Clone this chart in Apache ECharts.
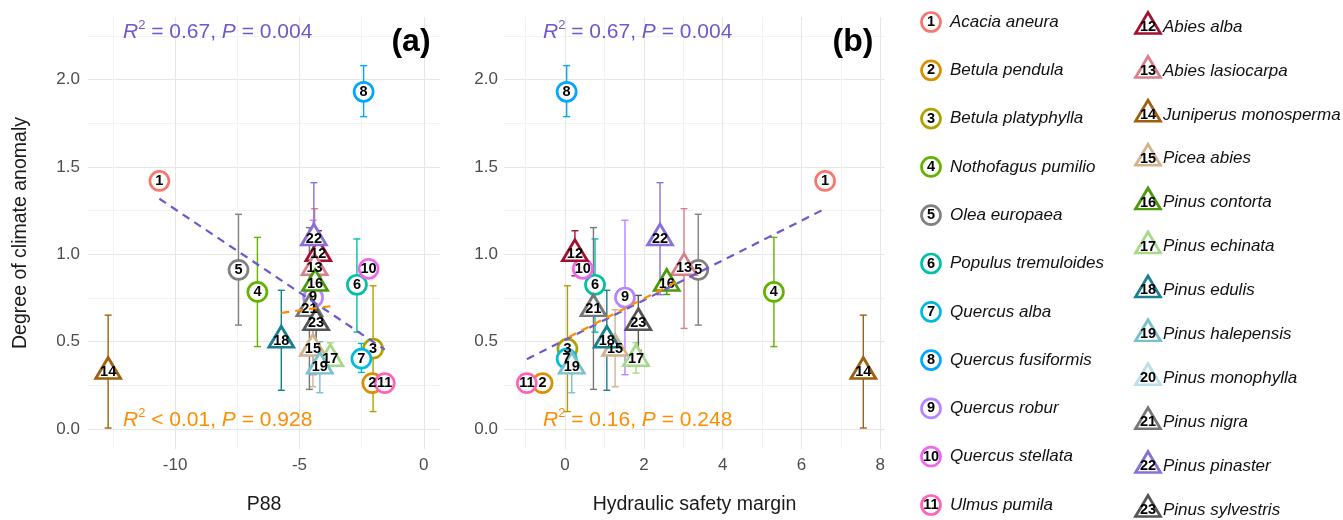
<!DOCTYPE html>
<html>
<head>
<meta charset="utf-8">
<script src="https://cdn.jsdelivr.net/npm/echarts@6/dist/echarts.min.js"></script>
<style>
  html, body { margin: 0; padding: 0; background: #fff; }
  #chart { width: 1343px; height: 520px; }
</style>
</head>
<body>
<div id="chart"></div>
<script>
const species = ['Acacia aneura', 'Betula pendula', 'Betula platyphylla', 'Nothofagus pumilio', 'Olea europaea',
  'Populus tremuloides', 'Quercus alba', 'Quercus fusiformis', 'Quercus robur', 'Quercus stellata', 'Ulmus pumila',
  'Abies alba', 'Abies lasiocarpa', 'Juniperus monosperma', 'Picea abies', 'Pinus contorta', 'Pinus echinata',
  'Pinus edulis', 'Pinus halepensis', 'Pinus monophylla', 'Pinus nigra', 'Pinus pinaster', 'Pinus sylvestris']
const group = ['angio', 'angio', 'angio', 'angio', 'angio', 'angio', 'angio', 'angio', 'angio', 'angio', 'angio',
  'conifer', 'conifer', 'conifer', 'conifer', 'conifer', 'conifer', 'conifer', 'conifer', 'conifer', 'conifer', 'conifer', 'conifer']

// x values per panel, y shared
const p88 = [-10.63, -2.07, -2.04, -6.69, -7.45, -2.69, -2.51, -2.42, -4.45, -2.22, -1.57,
  -4.24, -4.39, -12.69, -4.46, -4.37, -3.76, -5.73, -4.18, null, -4.6, -4.42, -4.33]
const hsm = [6.6, -0.57, 0.06, 5.3, 3.38, 0.76, 0.04, 0.04, 1.52, 0.45, -0.97,
  0.25, 3.02, 7.57, 1.27, 2.58, 1.8, 1.06, 0.17, null, 0.72, 2.41, 1.86]
const anomaly = [1.42, 0.263, 0.46, 0.785, 0.911, 0.826, 0.403, 1.93, 0.753, 0.917, 0.263,
  1.0, 0.92, 0.326, 0.458, 0.83, 0.4, 0.505, 0.356, null, 0.685, 1.09, 0.606]
const anomalyLow = [null, null, 0.10, 0.472, 0.595, 0.555, 0.324, 1.788, 0.311, 0.873, null,
  0.877, 0.576, 0.006, 0.242, 0.77, 0.32, 0.222, 0.208, null, 0.227, 0.769, 0.45]
const anomalyHigh = [null, null, 0.82, 1.097, 1.229, 1.088, 0.49, 2.08, 1.195, 0.96, null,
  1.135, 1.261, 0.652, 0.683, 0.89, 0.494, 0.794, 0.50, null, 1.153, 1.41, 0.765]

// fitted lines (end points)
const fitAngioA = [[-10.63, 1.318], [-1.57, 0.455]]
const fitConiferA = [[-5.73, 0.665], [-3.76, 0.703]]
const fitAngioB = [[-0.97, 0.40], [6.6, 1.261]]
const fitConiferB = [[0.1, 0.527], [2.85, 0.845]]

// ticks / grid lines
const xGridA = [-12.5, -10, -7.5, -5, -2.5, 0]
const xLabelsA = [-10, -5, 0]
const xGridB = [-1, 0, 1, 2, 3, 4, 5, 6, 7, 8]
const xLabelsB = [0, 2, 4, 6, 8]
const yGrid = [0, 0.25, 0.5, 0.75, 1, 1.25, 1.5, 1.75, 2, 2.25]
const yLabels = [0, 0.5, 1, 1.5, 2]

const colors = ['#F8766D', '#DB8E00', '#AEA200', '#64B200', '#808080', '#00C1A7', '#00BADE', '#00A6FF',
  '#B385FF', '#EF67EB', '#FF63B6', '#A50F30', '#D9808C', '#A0600F', '#D2B48C', '#4A9A0A', '#A6D98A',
  '#1A7F8E', '#78C0CC', '#B8E0E8', '#777777', '#8A6FD6', '#555555']

const FONT = '"Liberation Sans", Arial, sans-serif'
const PURPLE = '#6A5ACD'
const ORANGE = '#FF8C00'
const MAJOR = '#E6E6E6'
const MINOR = '#F2F2F2'

const chart = echarts.init(document.getElementById('chart'))

const markerItem = (i, value) => {
  const tri = group[i] === 'conifer'
  return {
    name: species[i],
    value,
    symbol: tri ? 'triangle' : 'circle',
    symbolSize: tri ? [25, 21] : 19,
    symbolOffset: tri ? [0, -4] : [0, 0],
    itemStyle: { color: '#fff', borderColor: colors[i], borderWidth: 2.7, opacity: 1 },
    label: { formatter: String(i + 1), offset: tri ? [0, 4] : [0, 0] }
  }
}

const markerLabel = {
  show: true, position: 'inside', color: '#000', fontWeight: 'bold', fontSize: 14.5, fontFamily: FONT
}

const pointSeries = (xs, idx) => ({
  type: 'scatter',
  xAxisIndex: idx, yAxisIndex: idx,
  z: 3,
  itemStyle: { opacity: 1 },
  label: markerLabel,
  data: species.map((n, i) => xs[i] == null ? null : markerItem(i, [xs[i], anomaly[i]])).filter(Boolean)
})

const errorSeries = (xs, idx) => ({
  type: 'custom',
  xAxisIndex: idx, yAxisIndex: idx,
  z: 2,
  encode: { x: 0, y: [1, 2] },
  data: species.map((n, i) => [xs[i], anomalyLow[i], anomalyHigh[i], i])
    .filter(d => d[0] != null && d[1] != null),
  renderItem (params, api) {
    const x = api.value(0)
    const lo = api.coord([x, api.value(1)])
    const hi = api.coord([x, api.value(2)])
    const style = { stroke: colors[api.value(3)], lineWidth: 1.4 }
    const cap = 3.5
    return {
      type: 'group',
      children: [
        { type: 'line', shape: { x1: lo[0], y1: lo[1], x2: hi[0], y2: hi[1] }, style },
        { type: 'line', shape: { x1: lo[0] - cap, y1: lo[1], x2: lo[0] + cap, y2: lo[1] }, style },
        { type: 'line', shape: { x1: hi[0] - cap, y1: hi[1], x2: hi[0] + cap, y2: hi[1] }, style }
      ]
    }
  }
})

const fitSeries = (pts, color, idx) => ({
  type: 'line',
  xAxisIndex: idx, yAxisIndex: idx,
  z: 4,
  showSymbol: false,
  data: pts,
  lineStyle: { color, width: 2.2, type: [8, 6] }
})

const xAxisBase = (idx, min, max, gridVals, labelVals, name) => ({
  gridIndex: idx, type: 'value', min, max,
  name, nameLocation: 'middle', nameGap: 46,
  nameTextStyle: { fontSize: 19.5, color: '#1a1a1a', fontFamily: FONT },
  axisLine: { show: false },
  axisTick: { show: false, customValues: gridVals },
  axisLabel: { customValues: labelVals, fontSize: 17, color: '#4D4D4D', margin: 8, fontFamily: FONT },
  splitLine: { show: true, lineStyle: { color: [MINOR, MAJOR], width: 1 } }
})

const yAxisBase = (idx, name, margin) => ({
  gridIndex: idx, type: 'value', min: -0.114, max: 2.358,
  name, nameLocation: 'middle', nameGap: 57,
  nameTextStyle: { fontSize: 19.5, color: '#1a1a1a', fontFamily: FONT },
  axisLine: { show: false },
  axisTick: { show: false, customValues: yGrid },
  axisLabel: {
    customValues: yLabels, fontSize: 17, color: '#4D4D4D', margin, fontFamily: FONT,
    formatter: v => v.toFixed(1)
  },
  splitLine: { show: true, lineStyle: { color: [MAJOR, MINOR], width: 1 } }
})

// legend built on two hidden grids
const legendIdx1 = species.map((n, i) => i).filter(i => i < 11)
const legendIdx2 = species.map((n, i) => i).filter(i => i >= 11)

const legendMarkers = (ids, idx) => ({
  type: 'scatter', xAxisIndex: idx, yAxisIndex: idx, z: 3,
  itemStyle: { opacity: 1 },
  label: markerLabel,
  data: ids.map((i, row) => markerItem(i, [0, row]))
})

const legendNames = (ids, idx, dist) => ({
  type: 'scatter', xAxisIndex: idx, yAxisIndex: idx, z: 3,
  symbolSize: 1,
  itemStyle: { color: 'rgba(0,0,0,0)', opacity: 1 },
  label: {
    show: true, position: 'right', distance: dist, formatter: '{b}',
    fontStyle: 'italic', fontSize: 17, color: '#111', fontFamily: FONT
  },
  data: ids.map((i, row) => ({ name: species[i], value: [0, row] }))
})

const hiddenX = idx => ({ gridIndex: idx, type: 'value', min: -1, max: 1, show: false })
const hiddenY = (idx, max) => ({ gridIndex: idx, type: 'value', min: 0, max, inverse: true, show: false })

const annotation = (sign, rest, color, x, y) => {
  const base = { fill: color, fontSize: 21, fontFamily: FONT, lineHeight: 26 }
  return {
    type: 'text', x, y, z: 10,
    style: {
      text: `{i|R}{s|2}{n|${sign}}{i|P}{n| = ${rest}}`,
      verticalAlign: 'middle',
      rich: {
        i: Object.assign({}, base, { fontStyle: 'italic' }),
        n: base,
        s: { fill: color, fontSize: 13, fontFamily: FONT, verticalAlign: 'top', lineHeight: 26 }
      }
    }
  }
}

const panelTag = (text, x, y) => ({
  type: 'text', x, y, z: 10,
  style: { text, fill: '#000', fontSize: 32, fontWeight: 'bold', fontFamily: FONT, align: 'center', verticalAlign: 'middle' }
})

chart.setOption({
  animation: false,
  backgroundColor: '#fff',
  grid: [
    { left: 88, top: 17, width: 352, height: 435 },
    { left: 504, top: 17, width: 381, height: 435 },
    { left: 926, top: 22, width: 10, height: 483 },
    { left: 1143, top: 27, width: 10, height: 483 }
  ],
  xAxis: [
    xAxisBase(0, -13.5, 0.65, xGridA, xLabelsA, 'P88'),
    xAxisBase(1, -1.55, 8.12, xGridB, xLabelsB, 'Hydraulic safety margin'),
    hiddenX(2),
    hiddenX(3)
  ],
  yAxis: [
    yAxisBase(0, 'Degree of climate anomaly', 8),
    yAxisBase(1, '', 6),
    hiddenY(2, legendIdx1.length - 1),
    hiddenY(3, legendIdx2.length - 1)
  ],
  series: [
    errorSeries(p88, 0),
    pointSeries(p88, 0),
    fitSeries(fitAngioA, PURPLE, 0),
    fitSeries(fitConiferA, ORANGE, 0),
    errorSeries(hsm, 1),
    pointSeries(hsm, 1),
    fitSeries(fitAngioB, PURPLE, 1),
    fitSeries(fitConiferB, ORANGE, 1),
    legendMarkers(legendIdx1, 2),
    legendNames(legendIdx1, 2, 18.5),
    legendMarkers(legendIdx2, 3),
    legendNames(legendIdx2, 3, 14.5)
  ],
  graphic: [
    annotation(' = 0.67, ', '0.004', PURPLE, 123, 32),
    annotation(' < 0.01, ', '0.928', ORANGE, 123, 420),
    annotation(' = 0.67, ', '0.004', PURPLE, 543, 32),
    annotation(' = 0.16, ', '0.248', ORANGE, 543, 420),
    panelTag('(a)', 411, 42),
    panelTag('(b)', 853, 42)
  ]
})

window.addEventListener('resize', () => chart.resize())
</script>
</body>
</html>
